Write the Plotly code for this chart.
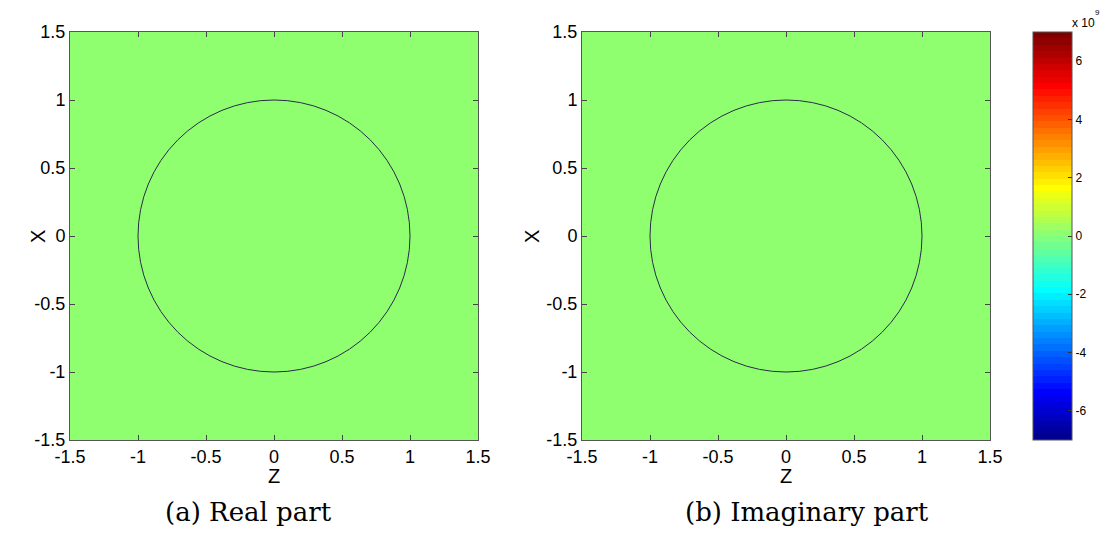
import numpy as np
import plotly.graph_objects as go

# Field samples on a coarse grid (cell centres), values in units of 1e9
grid_coords = [-1.0, 0.0, 1.0]
real_part = [[0.0, 0.0, 0.0],
             [0.0, 0.0, 0.0],
             [0.0, 0.0, 0.0]]
imag_part = [[0.0, 0.0, 0.0],
             [0.0, 0.0, 0.0],
             [0.0, 0.0, 0.0]]
circle_radius = 1.0

axis_ticks = [-1.5, -1.0, -0.5, 0.0, 0.5, 1.0, 1.5]
axis_ticktext = ["-1.5", "-1", "-0.5", "0", "0.5", "1", "1.5"]
cbar_ticks = [-6, -4, -2, 0, 2, 4, 6]
cbar_ticktext = ["-6", "-4", "-2", "0", "2", "4", "6"]
cbar_range = [-7.0, 7.0]
captions = ["(a) Real part", "(b) Imaginary part"]


def matlab_jet(m=64):
    n = int(np.ceil(m / 4))
    u = np.concatenate([np.arange(1, n + 1) / n, np.ones(n - 1), np.arange(n, 0, -1) / n])
    g = int(np.ceil(n / 2)) - (1 if m % 4 == 1 else 0) + np.arange(1, len(u) + 1)
    r = g + n
    b = g - n
    J = np.zeros((m, 3))
    for idx, col in ((r, 0), (g, 1), (b, 2)):
        ok = (idx >= 1) & (idx <= m)
        J[idx[ok] - 1, col] = u[ok]
    return J


def banded_scale(cmap):
    m = len(cmap)
    scale = []
    for i, c in enumerate(cmap):
        rgb = "rgb(%d,%d,%d)" % tuple(int(round(v * 255)) for v in c)
        lo = i / m
        hi = (i + 1) / m - 1e-6 if i < m - 1 else 1.0
        scale.append([lo, rgb])
        scale.append([hi, rgb])
    return scale


jet = banded_scale(matlab_jet(64))

W, H = 1102, 536
M = 30  # fixed margin on every side; layout below is in pixel terms
PW, PH = W - 2 * M, H - 2 * M


def px(x):
    return (x - M) / PW


def py(y):
    return 1 - (y - M) / PH


plot_top, plot_bottom = 32, 440
left_x = (70, 478)
right_x = (582, 990)

fig = go.Figure()
fig.add_trace(go.Heatmap(x=grid_coords, y=grid_coords, z=real_part,
                         coloraxis="coloraxis", xaxis="x", yaxis="y",
                         hoverinfo="skip"))
fig.add_trace(go.Heatmap(x=grid_coords, y=grid_coords, z=imag_part,
                         coloraxis="coloraxis", xaxis="x2", yaxis="y2",
                         hoverinfo="skip"))

tick_font = dict(family="Liberation Sans, Arial, sans-serif", size=18, color="black")
common = dict(range=[-1.5, 1.5], tickvals=axis_ticks, ticktext=axis_ticktext,
              ticks="inside", ticklen=5, tickcolor="#444", showgrid=False,
              zeroline=False, showline=True, linecolor="#555", linewidth=1,
              mirror="ticks", tickfont=tick_font, fixedrange=True,
              automargin=False)

ydom = [py(plot_bottom), py(plot_top)]
fig.update_layout(
    width=W, height=H, margin=dict(l=M, r=M, t=M, b=M, autoexpand=False),
    paper_bgcolor="white", plot_bgcolor="white",
    xaxis=dict(domain=[px(left_x[0]), px(left_x[1])], anchor="y", **common),
    yaxis=dict(domain=ydom, anchor="x", **common),
    xaxis2=dict(domain=[px(right_x[0]), px(right_x[1])], anchor="y2", **common),
    yaxis2=dict(domain=ydom, anchor="x2", **common),
    coloraxis=dict(
        colorscale=jet, cmin=cbar_range[0], cmax=cbar_range[1],
        colorbar=dict(
            x=px(1033), xanchor="left", xpad=0, ypad=0,
            y=py((plot_top + plot_bottom) / 2), yanchor="middle",
            lenmode="pixels", len=plot_bottom - plot_top,
            thicknessmode="pixels", thickness=39,
            outlinewidth=1, outlinecolor="#555",
            tickvals=cbar_ticks, ticktext=cbar_ticktext,
            ticks="inside", ticklen=4, tickcolor="#333",
            tickfont=dict(family="Liberation Sans, Arial, sans-serif", size=12, color="black"),
        ),
    ),
    showlegend=False,
)

for xr, yr in (("x", "y"), ("x2", "y2")):
    fig.add_shape(type="circle", xref=xr, yref=yr,
                  x0=-circle_radius, y0=-circle_radius,
                  x1=circle_radius, y1=circle_radius,
                  line=dict(color="#2a2a4a", width=1))

label_font = dict(family="Liberation Sans, Arial, sans-serif", size=20, color="black")
cap_font = dict(family="DejaVu Serif, serif", size=26, color="black")
for (x0, x1), ylab_x, cap, cap_x in ((left_x, 38, captions[0], 248),
                                     (right_x, 532, captions[1], 807)):
    cx = (x0 + x1) / 2
    fig.add_annotation(x=px(cx), y=py(476), xref="paper", yref="paper",
                       text="Z", showarrow=False, font=label_font,
                       xanchor="center", yanchor="middle")
    fig.add_annotation(x=px(ylab_x), y=py(237), xref="paper", yref="paper",
                       text="X", showarrow=False, font=label_font, textangle=-90,
                       xanchor="center", yanchor="middle")
    fig.add_annotation(x=px(cap_x), y=py(512), xref="paper", yref="paper",
                       text=cap, showarrow=False, font=cap_font,
                       xanchor="center", yanchor="middle")

# Colorbar exponent label: "x 10" with a raised "9"
sci_font = dict(family="Liberation Sans, Arial, sans-serif", size=12, color="black")
fig.add_annotation(x=px(1070), y=py(23), xref="paper", yref="paper",
                   text="x 10", showarrow=False, font=sci_font,
                   xanchor="left", yanchor="middle")
fig.add_annotation(x=px(1093), y=py(13), xref="paper", yref="paper",
                   text="9", showarrow=False,
                   font=dict(family="Liberation Sans, Arial, sans-serif", size=8, color="black"),
                   xanchor="left", yanchor="middle")

fig.write_html("out.html")
